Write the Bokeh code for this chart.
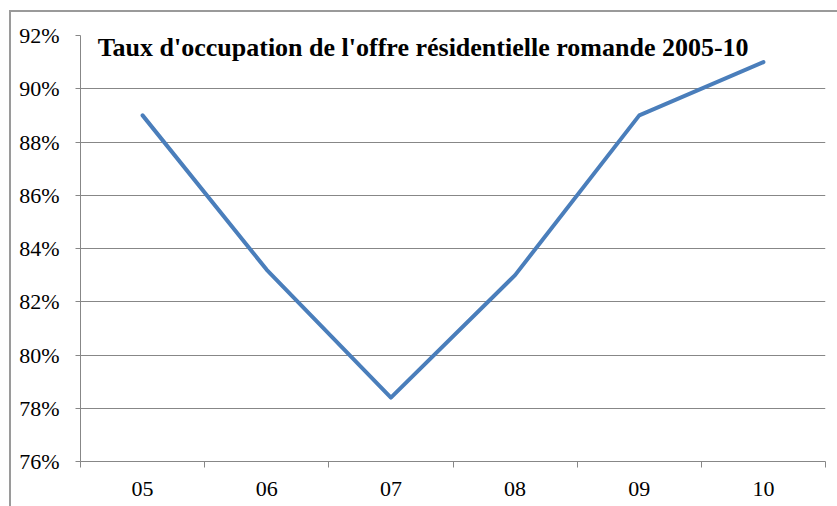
from bokeh.plotting import figure
from bokeh.models import Range1d, FixedTicker, PrintfTickFormatter, Label, Div
from bokeh.layouts import column, row
from bokeh.embed import file_html
from bokeh.resources import INLINE

categories = ["05", "06", "07", "08", "09", "10"]
occupation = [89.0, 83.2, 78.4, 83.0, 89.0, 91.0]
y_ticks = [76, 78, 80, 82, 84, 86, 88, 90, 92]
title_text = "Taux d'occupation de l'offre résidentielle romande 2005-10"

GRID = "#878787"
BORDER = "#9a9a9a"
SERIF = "Liberation Serif"

n = len(categories)
xs = [i + 0.5 for i in range(n)]

p = figure(width=824, height=490, output_backend="svg", toolbar_location=None,
           x_range=Range1d(0, n), y_range=Range1d(76, 92),
           min_border_left=69, min_border_right=10, min_border_top=23, min_border_bottom=41)
p.margin = 0
p.outline_line_color = None
p.background_fill_color = "white"
p.border_fill_color = "white"

p.line(xs, occupation, line_color="#4A7EBB", line_width=4, line_join="round", line_cap="round")

# x axis: labels at category centres, tick marks at boundaries
p.xaxis.ticker = FixedTicker(ticks=xs, minor_ticks=list(range(n + 1)))
p.xaxis.major_label_overrides = {x: c for x, c in zip(xs, categories)}
p.xaxis.major_tick_out = 0
p.xaxis.major_tick_in = 0
p.xaxis.minor_tick_out = 6
p.xaxis.minor_tick_in = 0
p.xaxis.minor_tick_line_color = GRID
p.xaxis.axis_line_color = GRID
p.xaxis.major_label_text_font = SERIF
p.xaxis.major_label_text_font_size = "22px"
p.xaxis.major_label_text_color = "black"
p.xaxis.major_label_standoff = 14

p.yaxis.ticker = FixedTicker(ticks=y_ticks)
p.yaxis.formatter = PrintfTickFormatter(format="%d%%")
p.yaxis.major_tick_out = 5
p.yaxis.major_tick_in = 0
p.yaxis.minor_tick_line_color = None
p.yaxis.major_tick_line_color = GRID
p.yaxis.axis_line_color = GRID
p.yaxis.major_label_text_font = SERIF
p.yaxis.major_label_text_font_size = "22px"
p.yaxis.major_label_text_color = "black"
p.yaxis.major_label_standoff = 16

p.xgrid.grid_line_color = None
p.ygrid.ticker = FixedTicker(ticks=y_ticks)
p.ygrid.grid_line_color = GRID
p.ygrid.grid_line_width = 1

p.add_layout(Label(x=0.138, y=91.55, text=title_text, text_font=SERIF,
                   text_font_size="26px", text_font_style="bold", text_color="black",
                   text_baseline="alphabetic", text_align="left"))

top_line = Div(text="", width=828, height=2, margin=0, styles={"background-color": BORDER})
left_line = Div(text="", width=2, height=494, margin=0, styles={"background-color": BORDER})
layout = column(top_line, row(left_line, p, spacing=0, margin=0), spacing=0)
layout.margin = (10, 0, 0, 9)

open("out.html", "w").write(file_html(layout, INLINE))
